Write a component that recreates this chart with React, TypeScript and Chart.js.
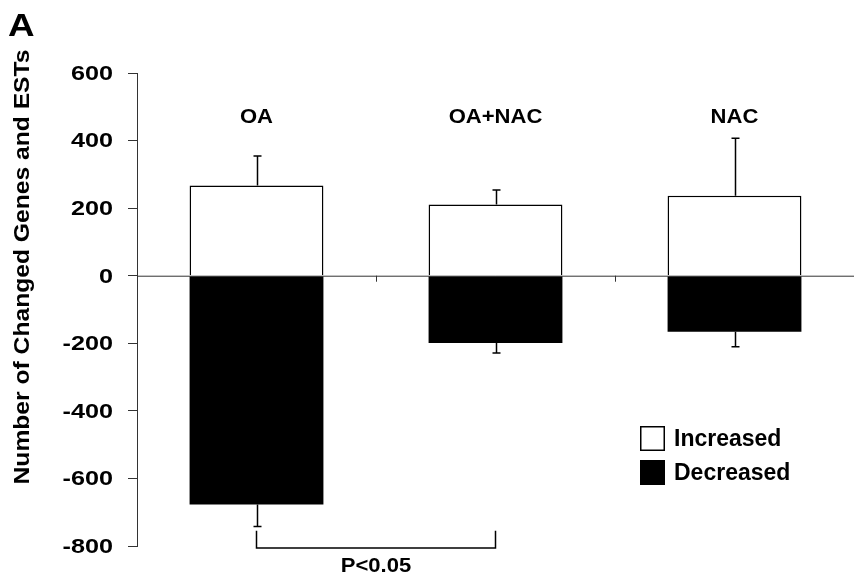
import React, { useEffect, useRef } from "react";
import { Chart, registerables } from "chart.js";

Chart.register(...registerables);

const categories = ["OA", "OA+NAC", "NAC"];
const increased = [267, 211, 237];
const increasedErr = [87, 43, 170];
const decreased = [-677, -199, -166];
const decreasedErr = [65, 30, 44];
const yTicks = [-800, -600, -400, -200, 0, 200, 400, 600];
const yTitle = "Number of Changed Genes and ESTs";
const legendLabels = ["Increased", "Decreased"];
const pLabel = "P<0.05";
const panelLabel = "A";
const categoryLabelValue = 470;
const bracketValue = -806;
const bracketArmValue = -755;
const bracketPair = [0, 1];

const FONT = "'Liberation Sans', Arial, Helvetica, sans-serif";

function stretchText(ctx: CanvasRenderingContext2D, text: string, x: number, y: number, sx: number) {
  ctx.save();
  ctx.translate(x, y);
  ctx.scale(sx, 1);
  ctx.fillText(text, 0, 0);
  ctx.restore();
}

const overlayPlugin = {
  id: "overlay",
  afterDatasetsDraw(chart: any) {
    const { ctx, chartArea, scales } = chart;
    const x = scales.x;
    const y = scales.y;
    ctx.save();

    // zero line
    const y0 = y.getPixelForValue(0);
    ctx.strokeStyle = "#333";
    ctx.lineWidth = 1;
    ctx.beginPath();
    ctx.moveTo(chartArea.left, y0 + 0.5);
    ctx.lineTo(chartArea.right, y0 + 0.5);
    ctx.stroke();

    // category boundary ticks
    for (let i = 1; i < categories.length; i++) {
      const px = (x.getPixelForValue(i - 1) + x.getPixelForValue(i)) / 2;
      ctx.beginPath();
      ctx.moveTo(px + 0.5, y0);
      ctx.lineTo(px + 0.5, y0 + 6);
      ctx.stroke();
    }

    // error bars
    ctx.strokeStyle = "#000";
    ctx.lineWidth = 1.5;
    const cap = 4;
    categories.forEach((_, i) => {
      const cx = Math.round(x.getPixelForValue(i)) + 0.5;
      const t0 = y.getPixelForValue(increased[i]);
      const t1 = y.getPixelForValue(increased[i] + increasedErr[i]);
      ctx.beginPath();
      ctx.moveTo(cx, t0);
      ctx.lineTo(cx, t1);
      ctx.moveTo(cx - cap, t1);
      ctx.lineTo(cx + cap, t1);
      ctx.stroke();
      const b0 = y.getPixelForValue(decreased[i]);
      const b1 = y.getPixelForValue(decreased[i] - decreasedErr[i]);
      ctx.beginPath();
      ctx.moveTo(cx, b0);
      ctx.lineTo(cx, b1);
      ctx.moveTo(cx - cap, b1);
      ctx.lineTo(cx + cap, b1);
      ctx.stroke();
    });

    // category labels
    ctx.fillStyle = "#000";
    ctx.font = `bold 21px ${FONT}`;
    ctx.textAlign = "center";
    ctx.textBaseline = "middle";
    categories.forEach((c, i) => {
      stretchText(ctx, c, x.getPixelForValue(i), y.getPixelForValue(categoryLabelValue), 1.05);
    });

    // y tick labels
    ctx.font = `bold 21px ${FONT}`;
    ctx.textAlign = "right";
    y.ticks.forEach((t: any) => {
      stretchText(ctx, String(t.value), 113, y.getPixelForValue(t.value) + 1, 1.2);
    });

    // y title
    ctx.save();
    ctx.translate(23, 267);
    ctx.rotate(-Math.PI / 2);
    ctx.font = `bold 22px ${FONT}`;
    ctx.textAlign = "center";
    stretchText(ctx, yTitle, 0, 0, 1.12);
    ctx.restore();

    // panel label
    ctx.font = `bold 32px ${FONT}`;
    ctx.textAlign = "left";
    ctx.textBaseline = "alphabetic";
    stretchText(ctx, panelLabel, 8, 36, 1.15);

    // bracket
    const bx0 = x.getPixelForValue(bracketPair[0]);
    const bx1 = x.getPixelForValue(bracketPair[1]);
    const by = y.getPixelForValue(bracketValue);
    const ba = y.getPixelForValue(bracketArmValue);
    ctx.lineWidth = 1.5;
    ctx.beginPath();
    ctx.moveTo(bx0, ba);
    ctx.lineTo(bx0, by);
    ctx.lineTo(bx1, by);
    ctx.lineTo(bx1, ba);
    ctx.stroke();
    ctx.font = `bold 21px ${FONT}`;
    ctx.textAlign = "center";
    ctx.textBaseline = "middle";
    stretchText(ctx, pLabel, (bx0 + bx1) / 2, by + 18, 1.05);

    // legend
    const lx = 640;
    const ly = [426, 460];
    const box = 25;
    ctx.textAlign = "left";
    ctx.font = `bold 23px ${FONT}`;
    legendLabels.forEach((lab, i) => {
      if (i === 0) {
        ctx.fillStyle = "#fff";
        ctx.fillRect(lx, ly[i], box, box);
        ctx.strokeStyle = "#000";
        ctx.lineWidth = 1.5;
        ctx.strokeRect(lx + 0.75, ly[i] + 0.75, box - 1.5, box - 1.5);
      } else {
        ctx.fillStyle = "#000";
        ctx.fillRect(lx, ly[i], box, box);
      }
      ctx.fillStyle = "#000";
      ctx.fillText(lab, lx + box + 9, ly[i] + box / 2 + 1);
    });

    ctx.restore();
  },
};

export default function App() {
  const ref = useRef<HTMLCanvasElement | null>(null);
  useEffect(() => {
    if (!ref.current) return;
    const chart = new Chart(ref.current, {
      type: "bar",
      data: {
        labels: categories,
        datasets: [
          {
            label: legendLabels[0],
            data: increased,
            backgroundColor: "#ffffff",
            borderColor: "#000000",
            borderWidth: 1.5,
            borderSkipped: "start",
            categoryPercentage: 1,
            barPercentage: 0.56,
          },
          {
            label: legendLabels[1],
            data: decreased,
            backgroundColor: "#000000",
            borderColor: "#000000",
            borderWidth: 0,
            categoryPercentage: 1,
            barPercentage: 0.56,
          },
        ],
      },
      options: {
        animation: false,
        responsive: false,
        maintainAspectRatio: false,
        layout: { padding: { top: 73, bottom: 30, left: 0, right: 0 } },
        plugins: { legend: { display: false }, tooltip: { enabled: false } },
        scales: {
          x: { display: false, stacked: true },
          y: {
            stacked: true,
            min: -800,
            max: 600,
            afterBuildTicks: (s: any) => {
              s.ticks = yTicks.map((v) => ({ value: v }));
            },
            afterFit: (s: any) => {
              s.width = 137;
            },
            ticks: { display: false },
            grid: {
              drawOnChartArea: false,
              drawTicks: true,
              tickLength: 9,
              color: "#333",
              lineWidth: 1,
            },
            border: { display: true, color: "#333", width: 1 },
          },
        },
      },
      plugins: [overlayPlugin],
    });
    return () => chart.destroy();
  }, []);
  return (
    <div style={{ position: "fixed", left: 0, top: 0, width: 854, height: 576, background: "#fff" }}>
      <canvas ref={ref} width={854} height={576} style={{ display: "block" }} />
    </div>
  );
}
